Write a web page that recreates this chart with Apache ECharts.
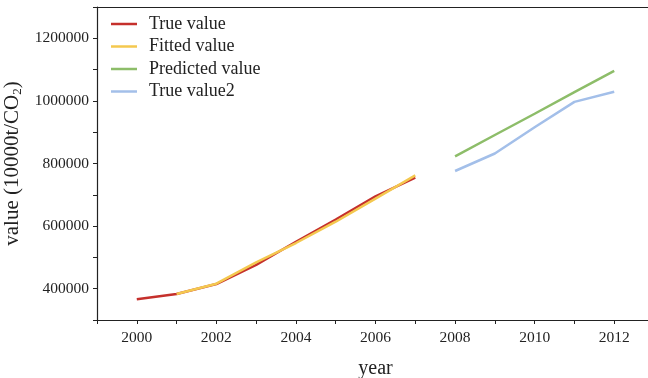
<!DOCTYPE html>
<html>
<head>
<meta charset="utf-8">
<script src="https://cdn.jsdelivr.net/npm/echarts@6/dist/echarts.min.js"></script>
<style>
  html, body { margin: 0; padding: 0; background: #fff; }
  #chart { width: 648px; height: 378px; }
</style>
</head>
<body>
<div id="chart"></div>
<script>
// Carbon emission series, in 10000 t CO2
const trueYears = [2000, 2001, 2002, 2003, 2004, 2005, 2006, 2007];
const trueValues = [366000, 383000, 415000, 476000, 550000, 621000, 695000, 755000];

const fittedYears = [2001, 2002, 2003, 2004, 2005, 2006, 2007];
const fittedValues = [383000, 416000, 484000, 546000, 614000, 688000, 762000];

const predictedYears = [2008, 2009, 2010, 2011, 2012];
const predictedValues = [823000, 891000, 959000, 1028000, 1096000];

const true2Years = [2008, 2009, 2010, 2011, 2012];
const true2Values = [776000, 832000, 916000, 997000, 1029000];

const seriesNames = ['True value', 'Fitted value', 'Predicted value', 'True value2'];
const seriesColors = ['#c5302c', '#f4c84f', '#8dbd69', '#a3bfe9'];

const pairs = (xs, ys) => xs.map((x, i) => [x, ys[i]]);

const serif = '"Liberation Serif", "DejaVu Serif", serif';
const axisColor = '#222';

const chart = echarts.init(document.getElementById('chart'));

const makeSeries = (name, data, color) => ({
  name: name,
  type: 'line',
  data: data,
  symbol: 'none',
  lineStyle: { color: color, width: 2.5 },
  itemStyle: { color: color },
  xAxisIndex: 0,
  yAxisIndex: 0
});

chart.setOption({
  animation: false,
  backgroundColor: '#fff',
  grid: { left: 97, top: 7, right: -6, bottom: 58, outerBoundsMode: 'none', containLabel: false },
  legend: {
    left: 111,
    top: 15,
    padding: 0,
    orient: 'vertical',
    icon: 'rect',
    itemWidth: 26,
    itemHeight: 2.5,
    itemGap: 4.5,
    textStyle: { fontFamily: serif, fontSize: 18, color: '#222', padding: [0, 0, 0, 7] },
    data: seriesNames
  },
  xAxis: [{
    type: 'value',
    min: 1999,
    max: 2013,
    interval: 1,
    name: 'year',
    nameLocation: 'middle',
    nameGap: 39,
    nameTextStyle: { fontFamily: serif, fontSize: 20, color: '#222' },
    axisLine: { show: true, onZero: false, lineStyle: { color: axisColor, width: 1.2 } },
    axisTick: { show: true, length: 4, lineStyle: { color: axisColor } },
    axisLabel: {
      fontFamily: serif, fontSize: 15.5, color: '#222', margin: 10,
      formatter: v => (v % 2 === 0 ? String(v) : '')
    },
    splitLine: { show: false }
  }, {
    type: 'value',
    position: 'top',
    min: 1999,
    max: 2013,
    interval: 1,
    axisLine: { show: true, onZero: false, lineStyle: { color: axisColor, width: 1.2 } },
    axisTick: { show: false },
    axisLabel: { show: false },
    splitLine: { show: false }
  }],
  yAxis: {
    type: 'value',
    min: 300000,
    max: 1300000,
    interval: 100000,
    name: '{n|value (10000t/CO}{s|2}{n|)}',
    nameLocation: 'middle',
    nameGap: 69,
    nameRotate: 90,
    nameTextStyle: {
      rich: {
        n: { fontFamily: serif, fontSize: 21, color: '#222' },
        s: { fontFamily: serif, fontSize: 13, color: '#222', padding: [9, 0, 0, 0] }
      }
    },
    axisLine: { show: true, onZero: false, lineStyle: { color: axisColor, width: 1.2 } },
    axisTick: { show: true, length: 4, lineStyle: { color: axisColor } },
    axisLabel: {
      fontFamily: serif, fontSize: 15.5, color: '#222', margin: 8,
      formatter: v => (v % 200000 === 0 ? String(v) : '')
    },
    splitLine: { show: false }
  },
  series: [
    makeSeries(seriesNames[0], pairs(trueYears, trueValues), seriesColors[0]),
    makeSeries(seriesNames[1], pairs(fittedYears, fittedValues), seriesColors[1]),
    makeSeries(seriesNames[2], pairs(predictedYears, predictedValues), seriesColors[2]),
    makeSeries(seriesNames[3], pairs(true2Years, true2Values), seriesColors[3])
  ]
});
</script>
</body>
</html>
